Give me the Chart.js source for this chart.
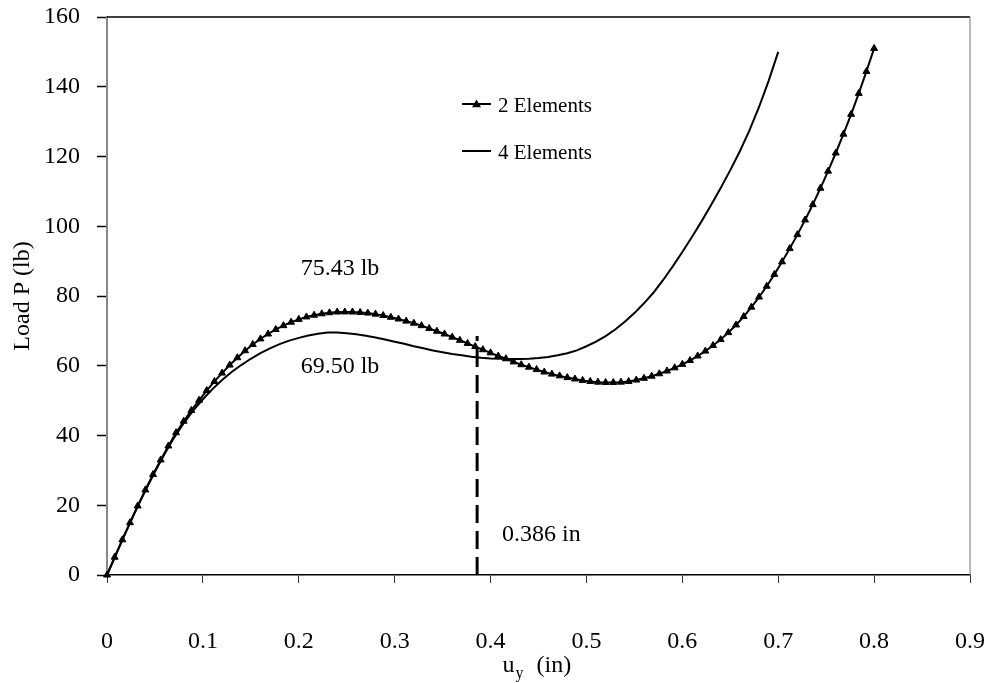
<!DOCTYPE html>
<html><head><meta charset="utf-8">
<script src="https://cdn.jsdelivr.net/npm/chart.js@4.4.0/dist/chart.umd.min.js"></script>
<style>html,body{margin:0;padding:0;background:#fff;}canvas{display:block;}</style>
</head><body>
<canvas id="c" width="989" height="683"></canvas>
<script>
const xTickLabels = ['0','0.1','0.2','0.3','0.4','0.5','0.6','0.7','0.8','0.9'];
const yTickLabels = ['0','20','40','60','80','100','120','140','160'];
const seriesNames = ['2 Elements','4 Elements'];

const uy2 = [0,0.008,0.016,0.024,0.032,0.04,0.048,0.056,0.064,0.072,0.08,0.088,0.096,0.104,0.112,0.12,0.128,0.136,0.144,0.152,0.16,0.168,0.176,0.184,0.192,0.2,0.208,0.216,0.224,0.232,0.24,0.248,0.256,0.264,0.272,0.28,0.288,0.296,0.304,0.312,0.32,0.328,0.336,0.344,0.352,0.36,0.368,0.376,0.384,0.392,0.4,0.408,0.416,0.424,0.432,0.44,0.448,0.456,0.464,0.472,0.48,0.488,0.496,0.504,0.512,0.52,0.528,0.536,0.544,0.552,0.56,0.568,0.576,0.584,0.592,0.6,0.608,0.616,0.624,0.632,0.64,0.648,0.656,0.664,0.672,0.68,0.688,0.696,0.704,0.712,0.72,0.728,0.736,0.744,0.752,0.76,0.768,0.776,0.784,0.792,0.8];
const load2 = [0,5.1,10.1,15.0,19.8,24.4,28.8,33.0,37.0,40.8,44.1,47.2,50.1,52.9,55.5,57.9,60.2,62.3,64.3,66.1,67.7,69.1,70.4,71.5,72.5,73.3,74.0,74.5,74.9,75.2,75.4,75.43,75.4,75.3,75.1,74.8,74.4,73.9,73.4,72.8,72.2,71.5,70.7,69.9,69.1,68.2,67.3,66.4,65.5,64.6,63.7,62.8,62.0,61.1,60.3,59.6,58.9,58.2,57.6,57.1,56.6,56.2,55.8,55.5,55.3,55.2,55.2,55.3,55.5,55.9,56.4,57.0,57.7,58.5,59.4,60.4,61.5,62.8,64.2,65.8,67.5,69.5,71.7,74.1,76.8,79.7,82.8,86.2,89.8,93.6,97.6,101.8,106.2,110.9,115.8,121.0,126.4,132.1,138.1,144.4,151.0];

const uy4 = [0,0.01,0.02,0.03,0.04,0.05,0.06,0.07,0.08,0.09,0.1,0.11,0.12,0.13,0.14,0.15,0.16,0.17,0.18,0.19,0.2,0.21,0.22,0.23,0.24,0.25,0.26,0.27,0.28,0.29,0.3,0.31,0.32,0.33,0.34,0.35,0.36,0.37,0.38,0.39,0.4,0.41,0.42,0.43,0.44,0.45,0.46,0.47,0.48,0.49,0.5,0.51,0.52,0.53,0.54,0.55,0.56,0.57,0.58,0.59,0.6,0.61,0.62,0.63,0.64,0.65,0.66,0.67,0.68,0.69,0.7];
const load4 = [0,6.3,12.5,18.5,24.2,29.6,34.7,39.4,43.5,47.2,50.4,53.3,55.9,58.2,60.2,62.0,63.6,65.0,66.2,67.2,68.0,68.7,69.2,69.5,69.5,69.3,69.0,68.6,68.1,67.5,66.9,66.3,65.6,65.0,64.4,63.9,63.4,63.0,62.6,62.3,62.1,62.0,61.9,61.9,62.0,62.2,62.5,63.0,63.6,64.4,65.6,66.9,68.5,70.4,72.6,75.1,77.9,81.0,84.6,88.5,92.6,96.9,101.4,106.1,111.0,116.1,121.5,127.5,134.2,141.7,150.0];

const criticalUy = [0.386, 0.386];
const criticalLoad = [0, 68.5];

const annotationTexts = ['75.43 lb','69.50 lb','0.386 in'];
const annotationAnchorsX = [0.202, 0.202, 0.412];
const annotationAnchorsY = [87.7, 59.6, 11.5];

const FONT = "'Liberation Serif','Times New Roman',serif";
const toPts = (xs, ys) => xs.map((x, i) => ({x: x, y: ys[i]}));
const noPad = (s) => { s.paddingTop = 0; s.paddingBottom = 0; s.paddingLeft = 0; s.paddingRight = 0; };

const framePlugin = {
  id: 'frame',
  beforeDatasetsDraw(chart) {
    const {ctx, chartArea: a} = chart;
    ctx.save();
    ctx.strokeStyle = '#000'; ctx.lineWidth = 1.5;
    ctx.beginPath(); ctx.moveTo(a.left, a.top); ctx.lineTo(a.right, a.top); ctx.stroke();
    ctx.strokeStyle = '#777'; ctx.lineWidth = 1;
    ctx.beginPath(); ctx.moveTo(a.right, a.top); ctx.lineTo(a.right, a.bottom); ctx.stroke();
    ctx.restore();
  }
};

const textPlugin = {
  id: 'texts',
  afterDraw(chart) {
    const {ctx, chartArea: a, scales} = chart;
    ctx.save();
    ctx.fillStyle = '#000';
    ctx.textBaseline = 'middle';
    ctx.textAlign = 'left';
    ctx.font = '24px ' + FONT;
    annotationTexts.forEach((t, i) => {
      ctx.fillText(t, scales.x.getPixelForValue(annotationAnchorsX[i]), scales.y.getPixelForValue(annotationAnchorsY[i]));
    });
    // x axis title u_y (in)
    const cx = (a.left + a.right) / 2;
    ctx.textBaseline = 'alphabetic';
    ctx.font = '24px ' + FONT;
    ctx.fillText('u', cx - 36, 672);
    ctx.font = '16px ' + FONT;
    ctx.fillText('y', cx - 23, 678);
    ctx.font = '24px ' + FONT;
    ctx.fillText('(in)', cx - 2, 672);
    // legend
    const rows = [a.top + 87, a.top + 134];
    const lx = a.left + 355;
    chart.data.datasets.forEach((ds) => {
      const r = seriesNames.indexOf(ds.label);
      if (r < 0) return;
      const yy = rows[r];
      ctx.strokeStyle = ds.borderColor; ctx.lineWidth = ds.borderWidth;
      ctx.beginPath(); ctx.moveTo(lx, yy); ctx.lineTo(lx + 29, yy); ctx.stroke();
      if (ds.pointRadius > 0) {
        ctx.fillStyle = '#000';
        ctx.beginPath();
        const rr = 4.5;
        ctx.moveTo(lx + 14.5, yy - rr); ctx.lineTo(lx + 14.5 + rr, yy + rr*0.7); ctx.lineTo(lx + 14.5 - rr, yy + rr*0.7); ctx.closePath(); ctx.fill();
      }
      ctx.fillStyle = '#000';
      ctx.font = '21px ' + FONT;
      ctx.textBaseline = 'middle';
      ctx.fillText(ds.label, lx + 36, yy + 2);
    });
    ctx.restore();
  }
};

new Chart(document.getElementById('c'), {
  type: 'scatter',
  data: {
    datasets: [
      {label: seriesNames[1], data: toPts(uy4, load4), showLine: true, borderColor: '#000', borderWidth: 2, pointRadius: 0, tension: 0, clip: false},
      {label: seriesNames[0], data: toPts(uy2, load2), showLine: true, borderColor: '#000', borderWidth: 2, pointStyle: 'triangle', pointRadius: 4, pointBackgroundColor: '#000', pointBorderColor: '#000', pointBorderWidth: 1, tension: 0, clip: false},
      {label: 'critical', data: toPts(criticalUy, criticalLoad), showLine: true, borderColor: '#000', borderWidth: 3, borderDash: [18, 8], pointRadius: 0, clip: false}
    ]
  },
  options: {
    responsive: false,
    animation: false,
    events: [],
    layout: {padding: {top: 17, right: 19, left: 0, bottom: 0}},
    plugins: {legend: {display: false}, tooltip: {enabled: false}},
    scales: {
      x: {
        type: 'linear', min: 0, max: 0.9,
        ticks: {stepSize: 0.1, color: '#000', padding: 44, maxRotation: 0, font: {family: FONT, size: 24}, callback: (v, i) => xTickLabels[i]},
        grid: {drawOnChartArea: false, drawTicks: true, tickLength: 8, tickColor: '#333', tickWidth: 1},
        border: {display: true, color: '#000', width: 1.5},
        afterFit: (s) => { s.height = 108; noPad(s); }
      },
      y: {
        min: 0, max: 160,
        ticks: {stepSize: 20, color: '#000', padding: 17, font: {family: FONT, size: 24}, callback: (v, i) => yTickLabels[i]},
        grid: {drawOnChartArea: false, drawTicks: true, tickLength: 10, tickColor: '#000', tickWidth: 1.5},
        border: {display: true, color: '#888', width: 2},
        title: {display: true, text: 'Load P (lb)', color: '#000', font: {family: FONT, size: 24}, padding: {top: 8, bottom: 0}},
        afterFit: (s) => { s.width = 107; noPad(s); }
      }
    }
  },
  plugins: [framePlugin, textPlugin]
});
</script>
</body></html>
